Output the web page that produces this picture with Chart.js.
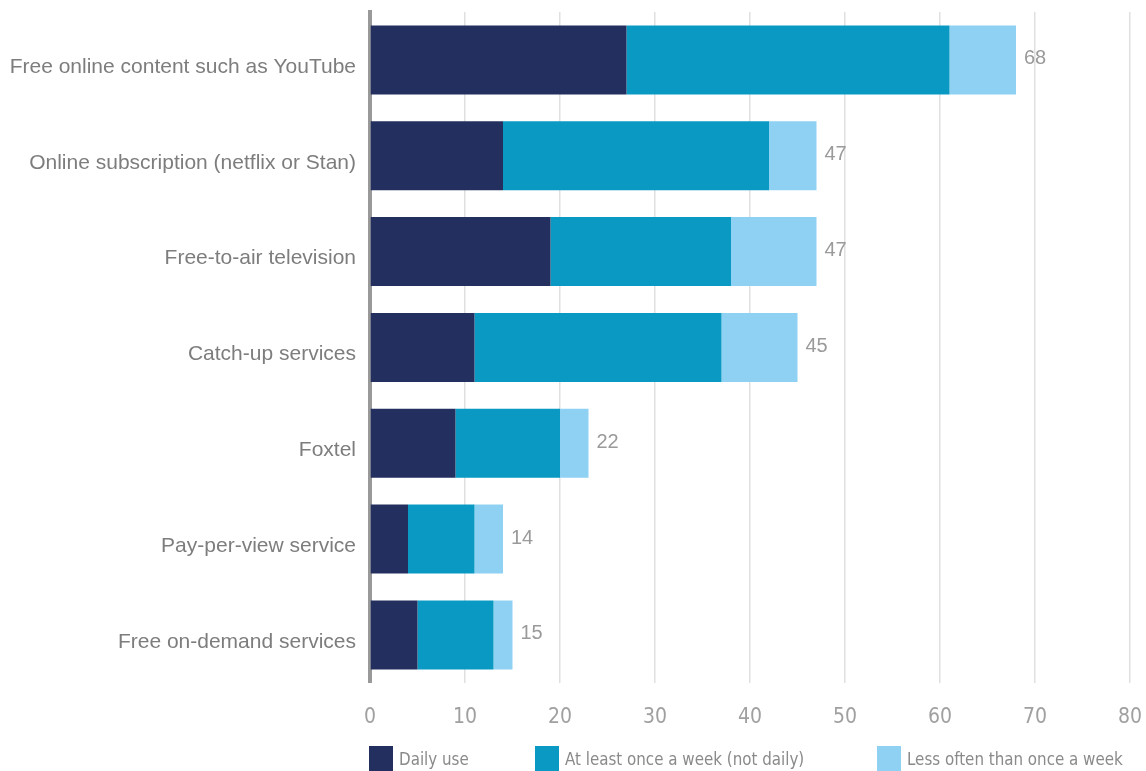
<!DOCTYPE html>
<html>
<head>
<meta charset="utf-8">
<script src="https://cdn.jsdelivr.net/npm/chart.js@4/dist/chart.umd.min.js"></script>
<style>
  html, body { margin: 0; padding: 0; background: #fff; }
  #wrap { position: relative; width: 1146px; height: 771px; }
  #c { position: absolute; left: 0; top: 0; }
  #legend { position: absolute; left: 0; top: 0; width: 1146px; height: 771px; pointer-events: none; }
  .item { position: absolute; top: 746px; height: 25px; display: flex; align-items: center; font-family: "Liberation Sans Narrow", "DejaVu Sans Condensed", "Liberation Sans", sans-serif; font-size: 16.8px; color: #8a8a8a; }
  .box { width: 24px; height: 25px; margin-right: 6px; }
</style>
</head>
<body>
<div id="wrap">
  <canvas id="c" width="1146" height="771"></canvas>
  <div id="legend"></div>
</div>
<script>
const categories = [
  "Free online content such as YouTube",
  "Online subscription (netflix or Stan)",
  "Free-to-air television",
  "Catch-up services",
  "Foxtel",
  "Pay-per-view service",
  "Free on-demand services"
];
const seriesNames = ["Daily use", "At least once a week (not daily)", "Less often than once a week"];
const dailyUse = [27, 14, 19, 11, 9, 4, 5];
const weeklyUse = [34, 28, 19, 26, 11, 7, 8];
const lessOften = [7, 5, 9, 8, 3, 3, 2];
const totalLabels = ["68", "47", "47", "45", "22", "14", "15"];
const xTicks = [0, 10, 20, 30, 40, 50, 60, 70, 80];

const colors = ["#23305f", "#0a99c3", "#8ed1f3"];
const legendLeft = [369, 535, 877];

const totalsPlugin = {
  id: 'totals',
  afterDatasetsDraw(chart) {
    const ctx = chart.ctx;
    const xs = chart.scales.x, ys = chart.scales.y;
    ctx.save();
    ctx.font = '20px "Liberation Sans", Arial, sans-serif';
    ctx.fillStyle = '#9a9a9a';
    ctx.textBaseline = 'middle';
    ctx.textAlign = 'left';
    categories.forEach((c, i) => {
      const total = dailyUse[i] + weeklyUse[i] + lessOften[i];
      const x = xs.getPixelForValue(total) + 8;
      const y = ys.getPixelForValue(i) - 1;
      ctx.fillText(totalLabels[i], x, y);
    });
    ctx.restore();
  }
};

const chart = new Chart(document.getElementById('c'), {
  type: 'bar',
  data: {
    labels: categories,
    datasets: [
      { label: seriesNames[0], data: dailyUse, backgroundColor: colors[0] },
      { label: seriesNames[1], data: weeklyUse, backgroundColor: colors[1] },
      { label: seriesNames[2], data: lessOften, backgroundColor: colors[2] }
    ]
  },
  options: {
    indexAxis: 'y',
    responsive: false,
    animation: false,
    devicePixelRatio: 1,
    layout: { padding: { top: 12, right: 16, bottom: 19, left: 0 } },
    datasets: { bar: { categoryPercentage: 0.72, barPercentage: 1.0 } },
    scales: {
      x: {
        stacked: true,
        min: 0, max: 80,
        afterBuildTicks(scale) { scale.ticks = xTicks.map(v => ({ value: v })); },
        afterFit(scale) { scale.paddingLeft = 0; scale.paddingRight = 0; },
        grid: { color: '#e0e0e0', lineWidth: 1.5, drawTicks: false },
        border: { display: false },
        ticks: {
          padding: 22,
          color: '#a0a0a0',
          font: { family: '"Liberation Sans Narrow", "DejaVu Sans Condensed", "Liberation Sans", sans-serif', size: 21 }
        }
      },
      y: {
        stacked: true,
        grid: { display: false, drawTicks: false },
        border: { display: true, color: '#999999', width: 4 },
        ticks: {
          padding: 14,
          labelOffset: 7,
          color: '#7d7d7d',
          font: { family: '"Liberation Sans", Arial, sans-serif', size: 21 }
        },
        afterFit(scale) { scale.width = 370; scale.paddingTop = 0; scale.paddingBottom = 0; }
      }
    },
    plugins: {
      legend: { display: false },
      tooltip: { enabled: false }
    }
  },
  plugins: [totalsPlugin]
});

const legend = document.getElementById('legend');
seriesNames.forEach((name, i) => {
  const it = document.createElement('div');
  it.className = 'item';
  it.style.left = legendLeft[i] + 'px';
  const b = document.createElement('div');
  b.className = 'box';
  b.style.background = colors[i];
  const t = document.createElement('span');
  t.textContent = name;
  it.appendChild(b); it.appendChild(t);
  legend.appendChild(it);
});
</script>
</body>
</html>
